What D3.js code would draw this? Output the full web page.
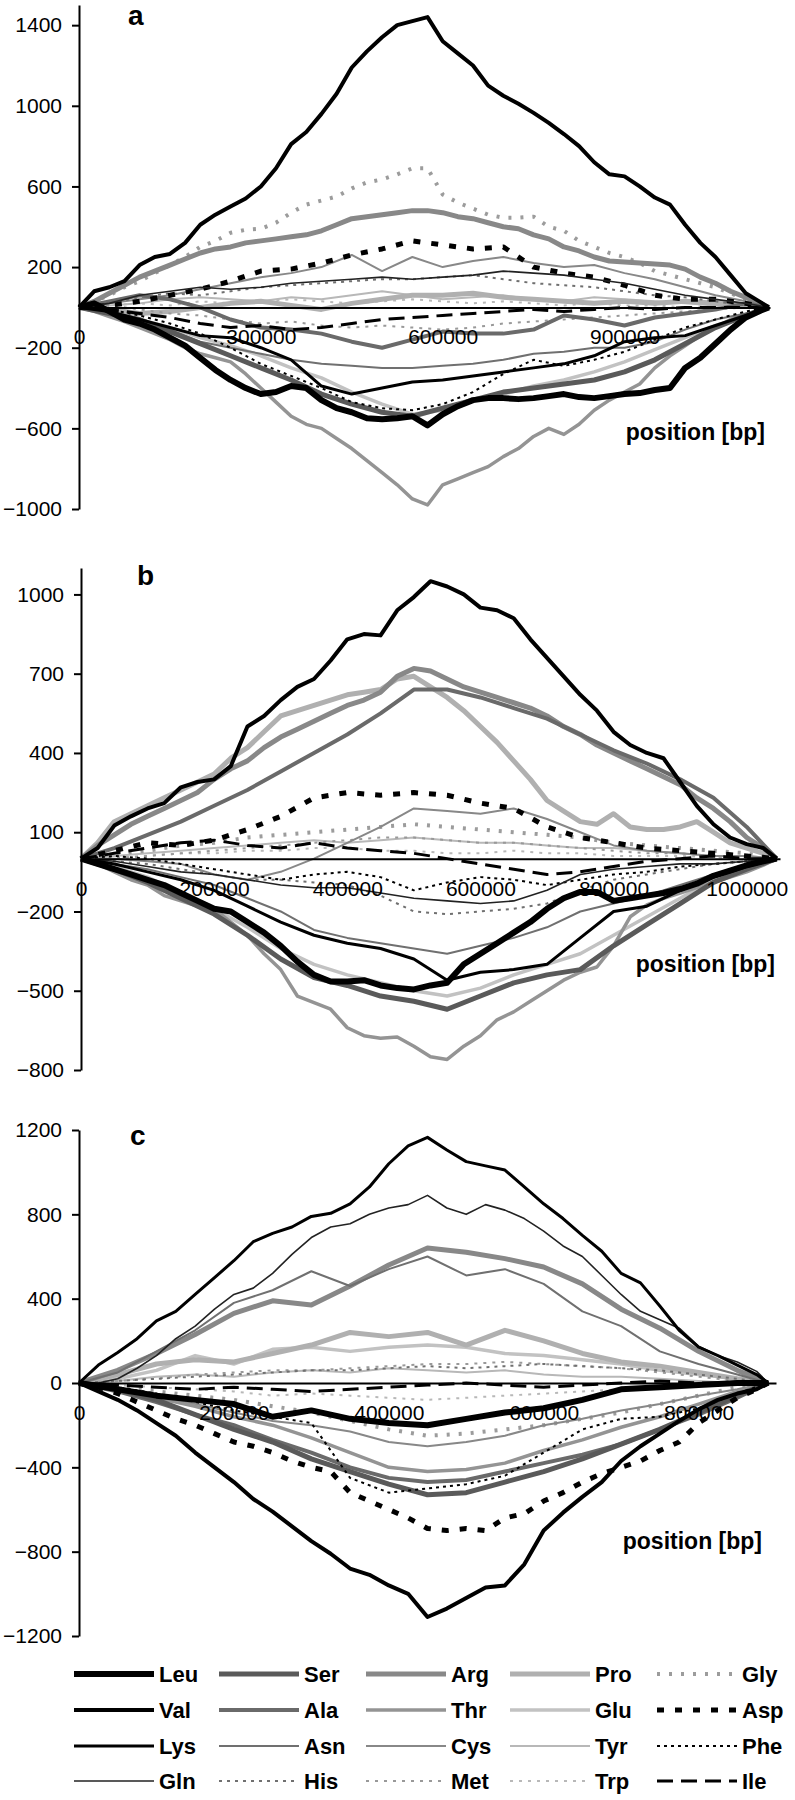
<!DOCTYPE html>
<html>
<head>
<meta charset="utf-8">
<script src="https://cdn.jsdelivr.net/npm/d3@7"></script>
<style>
  body { margin: 0; background: #fff; }
  svg { display: block; }
  text { font-family: "Liberation Sans", Arial, sans-serif; fill: #000; }
</style>
</head>
<body>
<svg id="chart" width="795" height="1800"></svg>
<script>
// ---------- DATA ----------
// amino acids, legend order (column by column)
var aminoAcids = ["Leu","Val","Lys","Gln","Ser","Ala","Asn","His","Arg","Thr","Cys","Met",
                  "Pro","Glu","Tyr","Trp","Gly","Asp","Phe","Ile"];

// ---- panel a : positions [bp] and cumulative skews ----
var posA = [0,50000,100000,150000,200000,250000,300000,350000,400000,450000,500000,550000,
            600000,650000,700000,750000,800000,850000,900000,950000,1000000,1050000,1100000,1138000];
var posAFine = [0,25000,50000,75000,100000,125000,150000,175000,200000,225000,250000,275000,
            300000,325000,350000,375000,400000,425000,450000,475000,500000,525000,550000,575000,
            600000,625000,650000,675000,700000,725000,750000,775000,800000,825000,850000,875000,
            900000,925000,950000,975000,1000000,1025000,1050000,1075000,1100000,1125000,1138000];
var xTicksA = [0,300000,600000,900000];
var yTicksA = [-1000,-600,-200,200,600,1000,1400];
// fine-grid series (panel a)
var aVal = [0,80,100,130,210,250,265,320,410,460,500,540,600,690,810,870,960,1060,1190,1270,1340,1400,1420,1440,
            1320,1260,1200,1100,1050,1010,965,915,860,800,720,660,650,600,545,510,410,320,250,160,70,25,0];
var aLeu = [0,20,-20,-60,-80,-110,-150,-190,-250,-310,-360,-400,-430,-420,-390,-400,-460,-500,-520,-550,-555,-550,-540,-585,
            -530,-490,-460,-450,-450,-455,-450,-440,-430,-445,-450,-440,-430,-425,-410,-400,-300,-250,-180,-110,-50,-15,0];
var aThr = [0,-20,-45,-70,-100,-130,-160,-200,-230,-250,-270,-330,-400,-470,-540,-580,-600,-650,-700,-760,-820,-880,-950,-980,
            -880,-850,-820,-790,-740,-700,-640,-600,-630,-580,-510,-460,-420,-380,-300,-240,-190,-140,-100,-60,-35,-15,0];
var aGly = [0,30,60,100,130,170,210,250,300,330,370,385,390,420,470,510,530,550,590,620,635,660,690,690,
            560,520,490,460,445,445,450,400,380,330,300,270,250,220,180,160,140,120,100,70,40,15,0];
var aArg = [0,30,70,110,150,180,210,240,270,290,300,320,330,340,350,360,380,410,440,450,460,470,480,480,
            470,450,440,420,400,390,360,340,300,280,250,230,225,220,215,210,190,150,120,80,50,20,0];
// coarse-grid series (panel a)
var aLys = [0,-20,-60,-100,-140,-150,-200,-260,-390,-430,-400,-370,-360,-340,-320,-300,-280,-240,-170,-150,-140,-90,-40,0];
var aGln = [0,20,60,80,100,90,100,120,130,140,150,140,150,160,180,170,160,140,120,90,60,40,20,0];
var aSer = [0,-30,-60,-120,-180,-240,-300,-360,-430,-480,-520,-540,-500,-460,-420,-400,-380,-360,-320,-260,-180,-100,-40,0];
var aAla = [0,30,60,40,0,-60,-100,-110,-130,-170,-200,-160,-120,-130,-130,-110,-40,-60,-90,-50,-30,-10,20,0];
var aAsn = [0,-20,-60,-110,-170,-200,-230,-260,-280,-290,-300,-300,-290,-280,-260,-230,-220,-200,-200,-170,-110,-60,-30,0];
var aHis = [0,20,50,70,60,80,100,110,120,130,140,140,150,160,140,120,110,100,80,60,50,30,10,0];
var aCys = [0,20,40,60,90,120,150,170,200,260,180,250,200,230,250,220,200,210,170,140,100,60,30,0];
var aMet = [0,10,-10,-30,-40,-60,-80,-70,-90,-100,-90,-100,-110,-100,-80,-70,-60,-50,-40,-30,-20,-10,0,0];
var aPro = [0,-10,-30,-20,0,20,30,10,-10,20,40,60,60,70,50,40,30,20,30,20,30,20,10,0];
var aGlu = [0,-30,-60,-100,-150,-190,-240,-300,-350,-420,-480,-530,-510,-460,-430,-390,-360,-320,-270,-210,-150,-90,-40,0];
var aTyr = [0,10,20,40,50,40,30,50,40,60,80,60,40,50,60,40,30,50,40,30,20,10,10,0];
var aTrp = [0,10,20,10,30,20,30,40,30,20,30,40,30,20,30,20,10,20,10,10,0,10,0,0];
var aAsp = [0,10,30,60,90,130,180,190,220,260,290,330,310,290,300,200,170,150,110,60,40,40,20,0];
var aPhe = [0,-10,-40,-80,-130,-200,-280,-340,-400,-470,-500,-510,-480,-420,-330,-260,-290,-260,-220,-160,-100,-60,-20,0];
var aIle = [0,-10,-30,-50,-80,-100,-90,-110,-100,-80,-60,-50,-40,-30,-20,-10,-20,-10,0,-10,0,0,0,0];

// ---- panel b ----
var posB = [0,50000,100000,150000,200000,250000,300000,350000,400000,450000,500000,550000,
            600000,650000,700000,750000,800000,850000,900000,950000,1000000,1045000];
var posBFine = [0,25000,50000,75000,100000,125000,150000,175000,200000,225000,250000,275000,
            300000,325000,350000,375000,400000,425000,450000,475000,500000,525000,550000,575000,
            600000,625000,650000,675000,700000,725000,750000,775000,800000,825000,850000,875000,
            900000,925000,950000,975000,1000000,1025000,1045000];
var xTicksB = [0,200000,400000,600000,800000,1000000];
var yTicksB = [-800,-500,-200,100,400,700,1000];
// fine-grid series (panel b)
var bVal = [0,40,125,160,190,210,270,290,300,350,500,540,600,650,680,750,830,850,845,940,990,1050,
            1030,1000,950,940,910,830,760,690,620,560,480,430,400,380,290,200,130,80,55,40,0];
var bThr = [0,-20,-50,-80,-100,-140,-160,-180,-190,-240,-290,-360,-420,-520,-545,-570,-640,-670,-680,-675,-710,-750,
            -760,-710,-670,-610,-580,-540,-500,-460,-430,-410,-330,-220,-175,-150,-130,-110,-90,-70,-50,-25,0];
var bArg = [0,50,90,130,160,190,220,250,300,340,370,420,460,490,520,550,580,600,630,690,720,710,
            680,650,630,610,590,570,540,500,470,430,400,370,340,310,280,230,190,140,80,40,0];
var bPro = [0,60,140,170,200,230,260,290,320,380,420,480,540,560,580,600,620,630,640,680,690,650,
            610,560,500,440,370,300,220,180,140,130,170,120,110,110,120,140,100,60,40,20,0];
var bLeu = [0,-20,-40,-60,-80,-100,-130,-160,-190,-200,-240,-280,-330,-390,-440,-465,-465,-460,-480,-490,-495,-480,
            -470,-400,-360,-320,-280,-240,-190,-150,-126,-126,-160,-150,-140,-130,-115,-95,-65,-45,-25,-10,0];
// coarse-grid series (panel b)
var bLys = [0,-20,-50,-80,-120,-180,-240,-290,-320,-340,-380,-460,-430,-420,-400,-300,-200,-180,-120,-70,-30,0];
var bGln = [0,-10,-30,-50,-60,-80,-100,-110,-110,-130,-150,-160,-170,-160,-120,-60,-40,-30,-20,-20,-10,0];
var bSer = [0,-40,-90,-150,-210,-290,-380,-450,-480,-520,-540,-570,-520,-470,-440,-420,-330,-250,-170,-90,-40,0];
var bAla = [0,40,90,140,200,260,330,400,470,550,640,640,610,570,530,470,410,360,300,230,120,0];
var bAsn = [0,-20,-40,-70,-100,-150,-200,-270,-300,-320,-340,-360,-330,-300,-260,-200,-170,-140,-100,-60,-20,0];
var bHis = [0,-10,-20,-40,-60,-80,-80,-90,-100,-140,-200,-210,-200,-190,-170,-120,-80,-60,-40,-20,-10,0];
var bCys = [0,0,-10,-20,-60,-80,-50,0,60,120,190,180,170,190,150,100,50,30,20,10,10,0];
var bMet = [0,0,10,20,30,40,50,60,70,80,80,70,60,60,50,40,30,20,20,10,0,0];
var bGlu = [0,-30,-70,-130,-190,-260,-340,-400,-440,-470,-500,-520,-490,-440,-400,-360,-290,-220,-150,-80,-30,0];
var bTyr = [0,10,20,30,40,50,60,70,60,70,80,70,60,60,50,40,40,30,20,10,10,0];
var bTrp = [0,5,10,20,20,30,30,40,40,30,30,20,20,30,20,20,10,10,10,5,0,0];
var bGly = [0,20,30,50,60,80,90,100,110,120,130,120,110,100,90,80,60,50,40,30,20,0];
var bAsp = [0,30,60,50,70,110,160,230,250,240,250,240,210,190,120,80,60,40,30,20,10,0];
var bPhe = [0,10,0,-20,-40,-60,-80,-60,-50,-70,-120,-90,-70,-80,-100,-80,-60,-50,-30,-20,-10,0];
var bIle = [0,20,40,60,70,50,40,60,40,30,20,0,-20,-40,-60,-50,-30,-10,0,10,0,0];

// ---- panel c ----
var posC = [0,50000,100000,150000,200000,250000,300000,350000,400000,450000,500000,550000,
            600000,650000,700000,750000,800000,850000,890000];
var posCFine = [0,25000,50000,75000,100000,125000,150000,175000,200000,225000,250000,275000,
            300000,325000,350000,375000,400000,425000,450000,475000,500000,525000,550000,575000,
            600000,625000,650000,675000,700000,725000,750000,775000,800000,825000,850000,875000,890000];
var xTicksC = [0,200000,400000,600000,800000];
var yTicksC = [-1200,-800,-400,0,400,800,1200];
// fine-grid series (panel c)
var cLys = [0,85,145,210,295,340,420,500,580,670,710,740,790,805,850,930,1040,1125,1165,1105,1050,1030,
            1010,930,850,780,700,625,520,475,365,250,170,130,85,40,0];
var cGln = [0,0,20,70,130,210,270,350,420,450,520,610,690,740,755,800,830,846,890,830,800,846,
            820,780,720,650,600,510,420,340,300,260,175,130,100,55,0];
var cVal = [0,-40,-80,-130,-190,-250,-330,-400,-470,-550,-610,-680,-750,-810,-880,-910,-960,-1000,-1110,-1070,-1020,-970,
            -960,-860,-700,-615,-540,-470,-370,-300,-240,-180,-125,-80,-50,-30,0];
var cAsp = [0,-20,-50,-90,-130,-170,-200,-240,-280,-300,-330,-370,-400,-420,-520,-560,-600,-640,-690,-700,-690,-700,
            -640,-620,-560,-520,-470,-430,-400,-370,-320,-280,-190,-130,-70,-30,0];
// coarse-grid series (panel c)
var cLeu = [0,-30,-60,-80,-100,-160,-130,-170,-190,-200,-170,-140,-120,-80,-30,-20,-10,0,0];
var cSer = [0,-30,-80,-150,-220,-280,-360,-420,-480,-530,-520,-470,-420,-360,-290,-220,-140,-60,0];
var cAla = [0,-40,-90,-150,-200,-270,-330,-400,-450,-470,-460,-420,-380,-340,-290,-220,-150,-70,0];
var cAsn = [0,50,150,250,380,440,530,460,540,600,510,540,470,340,270,150,90,40,0];
var cHis = [0,10,20,30,40,50,60,60,70,80,70,80,90,80,70,60,40,20,0];
var cArg = [0,60,140,230,330,390,370,460,560,640,620,590,550,470,350,260,150,60,0];
var cThr = [0,-30,-70,-110,-160,-200,-260,-330,-400,-420,-410,-380,-320,-270,-210,-160,-100,-40,0];
var cCys = [0,-20,-60,-100,-140,-180,-200,-230,-280,-300,-280,-250,-200,-170,-130,-100,-60,-30,0];
var cMet = [0,10,20,40,50,60,60,70,80,90,90,100,90,80,70,50,30,10,0];
var cPro = [0,40,90,110,100,140,180,240,220,240,180,250,200,140,100,80,50,20,0];
var cGlu = [0,20,60,130,90,160,170,150,170,180,170,140,130,110,90,60,40,20,0];
var cTyr = [0,10,30,40,30,50,60,50,70,60,50,60,40,30,30,20,10,0,0];
var cTrp = [0,-10,-20,-30,-40,-60,-50,-60,-70,-80,-70,-60,-50,-40,-30,-20,-10,0,0];
var cGly = [0,-20,-40,-60,-80,-110,-140,-180,-220,-250,-240,-220,-200,-170,-140,-100,-60,-20,0];
var cPhe = [0,-20,-50,-90,-130,-160,-190,-450,-520,-500,-480,-440,-330,-220,-170,-160,-120,-50,0];
var cIle = [0,-10,-20,-30,-20,-30,-40,-30,-20,-10,0,-10,-20,-10,0,10,0,0,0];

// which series are sampled on the fine grid
var fineA = ["Val","Leu","Thr","Gly","Arg"];
var fineB = ["Val","Thr","Arg","Pro","Leu"];
var fineC = ["Lys","Gln","Val","Asp"];

// ---------- STYLES ----------
var styles = {
  Leu: {c:"#000",    w:6},
  Val: {c:"#000",    w:4},
  Lys: {c:"#000",    w:3},
  Gln: {c:"#222",    w:1.6},
  Ser: {c:"#5a5a5a", w:5},
  Ala: {c:"#6a6a6a", w:4},
  Asn: {c:"#707070", w:2},
  His: {c:"#707070", w:2,   d:"3,5"},
  Arg: {c:"#888",    w:5},
  Thr: {c:"#949494", w:3.5},
  Cys: {c:"#888",    w:2},
  Met: {c:"#999",    w:2,   d:"3,6"},
  Pro: {c:"#b0b0b0", w:5},
  Glu: {c:"#c2c2c2", w:3.5},
  Tyr: {c:"#b8b8b8", w:2},
  Trp: {c:"#b8b8b8", w:2,   d:"3,6"},
  Gly: {c:"#9c9c9c", w:4,   d:"3,9"},
  Asp: {c:"#000",    w:5,   d:"7,11"},
  Phe: {c:"#000",    w:2,   d:"3,4"},
  Ile: {c:"#000",    w:3,   d:"16,8"}
};
// drawing order: light greys first, black last
var drawOrder = ["Glu","Tyr","Trp","Pro","Gly","Met","Cys","Thr","Arg","His","Asn","Ala","Ser",
                 "Ile","Phe","Asp","Gln","Lys","Val","Leu"];

var srcVars = {
  aVal:aVal,aLeu:aLeu,aLys:aLys,aGln:aGln,aSer:aSer,aAla:aAla,aAsn:aAsn,aHis:aHis,aArg:aArg,aThr:aThr,
  aCys:aCys,aMet:aMet,aPro:aPro,aGlu:aGlu,aTyr:aTyr,aTrp:aTrp,aGly:aGly,aAsp:aAsp,aPhe:aPhe,aIle:aIle,
  bVal:bVal,bLeu:bLeu,bLys:bLys,bGln:bGln,bSer:bSer,bAla:bAla,bAsn:bAsn,bHis:bHis,bArg:bArg,bThr:bThr,
  bCys:bCys,bMet:bMet,bPro:bPro,bGlu:bGlu,bTyr:bTyr,bTrp:bTrp,bGly:bGly,bAsp:bAsp,bPhe:bPhe,bIle:bIle,
  cVal:cVal,cLeu:cLeu,cLys:cLys,cGln:cGln,cSer:cSer,cAla:cAla,cAsn:cAsn,cHis:cHis,cArg:cArg,cThr:cThr,
  cCys:cCys,cMet:cMet,cPro:cPro,cGlu:cGlu,cTyr:cTyr,cTrp:cTrp,cGly:cGly,cAsp:cAsp,cPhe:cPhe,cIle:cIle
};

// build {name: [[pos, value], ...]} for one panel
function table(prefix, pos, posFine, fineList) {
  var out = {};
  aminoAcids.forEach(function(n){
    var vals = srcVars[prefix + n];
    var xs = fineList.indexOf(n) >= 0 ? posFine : pos;
    out[n] = xs.map(function(px, i){ return [px, vals[i]]; });
  });
  return out;
}

// ---------- LAYOUT ----------
var panels = [
  {letter:"a", series:table("a", posA, posAFine, fineA), xTicks:xTicksA, yTicks:yTicksA,
   xMax:1140000, xRange:[79,770], yDomain:[-1000,1500], yRange:[509,5],
   letterX:128, letterY:25, posLabel:[765,440]},
  {letter:"b", series:table("b", posB, posBFine, fineB), xTicks:xTicksB, yTicks:yTicksB,
   xMax:1050000, xRange:[81,780], yDomain:[-800,1100], yRange:[1070,568],
   letterX:137, letterY:585, posLabel:[775,972]},
  {letter:"c", series:table("c", posC, posCFine, fineC), xTicks:xTicksC, yTicks:yTicksC,
   xMax:900000, xRange:[79,776], yDomain:[-1200,1200], yRange:[1636,1130],
   letterX:130, letterY:1145, posLabel:[762,1549]}
];

var svg = d3.select("#chart");
var fmt = d3.format("d");

panels.forEach(function(p){
  var g = svg.append("g").attr("class", "panel-" + p.letter);
  var x = d3.scaleLinear().domain([0, p.xMax]).range(p.xRange);
  var y = d3.scaleLinear().domain(p.yDomain).range(p.yRange);

  var line = d3.line()
    .x(function(d){ return x(d[0]); })
    .y(function(d){ return y(d[1]); });

  drawOrder.forEach(function(name){
    var st = styles[name];
    g.append("path")
      .datum(p.series[name])
      .attr("fill", "none")
      .attr("stroke", st.c)
      .attr("stroke-width", st.w)
      .attr("stroke-dasharray", st.d || null)
      .attr("stroke-linejoin", "round")
      .attr("d", line);
  });

  // x axis at zero
  var xAxis = d3.axisBottom(x).tickValues(p.xTicks).tickSize(0).tickPadding(22).tickFormat(fmt);
  var gx = g.append("g").attr("transform", "translate(0," + y(0) + ")").call(xAxis);
  gx.select(".domain").attr("stroke", "#000").attr("stroke-width", 2);
  gx.selectAll("text").attr("font-size", 21).style("font-family", "'Liberation Sans', Arial, sans-serif");

  // y axis
  var yAxis = d3.axisLeft(y).tickValues(p.yTicks).tickSize(7).tickSizeOuter(0).tickPadding(10).tickFormat(fmt);
  var gy = g.append("g").attr("transform", "translate(" + p.xRange[0] + ",0)").call(yAxis);
  gy.select(".domain").attr("stroke", "#000").attr("stroke-width", 2);
  gy.selectAll(".tick line").attr("stroke", "#000").attr("stroke-width", 2);
  gy.selectAll("text").attr("font-size", 21).style("font-family", "'Liberation Sans', Arial, sans-serif");

  // panel letter
  g.append("text").attr("x", p.letterX).attr("y", p.letterY)
    .attr("font-size", 28).attr("font-weight", "bold").text(p.letter);

  // axis title
  g.append("text").attr("x", p.posLabel[0]).attr("y", p.posLabel[1])
    .attr("text-anchor", "end").attr("font-size", 23).attr("font-weight", "bold")
    .text("position [bp]");
});

// ---------- LEGEND ----------
var legendCols = [74, 219, 366, 510, 657];
var legendRows = [1674, 1710, 1746, 1781];
var legendLen = 80;
var lg = svg.append("g").attr("class", "legend");
aminoAcids.forEach(function(name, i){
  var col = Math.floor(i / 4), row = i % 4;
  var st = styles[name];
  var lx = legendCols[col], ly = legendRows[row];
  lg.append("line")
    .attr("x1", lx).attr("x2", lx + legendLen)
    .attr("y1", ly).attr("y2", ly)
    .attr("stroke", st.c).attr("stroke-width", st.w)
    .attr("stroke-dasharray", st.d || null);
  lg.append("text")
    .attr("x", lx + legendLen + 5).attr("y", ly + 8)
    .attr("font-size", 22).attr("font-weight", "bold")
    .text(name);
});
</script>
</body>
</html>
